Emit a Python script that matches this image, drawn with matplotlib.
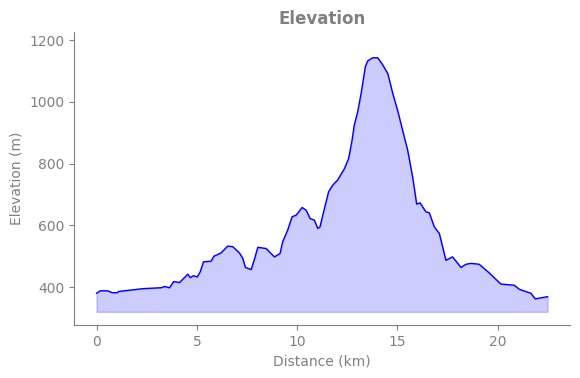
import matplotlib
matplotlib.use("Agg")

import matplotlib.pyplot as plt
import numpy as np


###----------------------profile_data----------------------###
distance_km = [
    0.00, 0.18, 0.56, 0.78, 1.03, 1.11, 2.31, 3.22, 3.39, 3.64,
    3.84, 4.14, 4.55, 4.67, 4.83, 5.02, 5.17, 5.33, 5.71, 5.85,
    6.21, 6.54, 6.79, 7.12, 7.29, 7.42, 7.71, 7.87, 8.04, 8.46,
    8.62, 8.87, 9.15, 9.28, 9.53, 9.75, 9.95, 10.25, 10.45, 10.65,
    10.86, 11.03, 11.14, 11.28, 11.57, 11.77, 12.02, 12.36, 12.57, 12.74,
    12.85, 13.02, 13.19, 13.40, 13.52, 13.77, 14.02, 14.23, 14.52, 14.77,
    15.01, 15.26, 15.51, 15.76, 15.96, 16.13, 16.42, 16.59, 16.84, 17.09,
    17.42, 17.75, 18.17, 18.42, 18.67, 19.08, 19.58, 20.16, 20.83, 21.08,
    21.66, 21.87, 22.49,
]
elevation_m = [
    380, 388, 388, 382, 382, 386, 395, 398, 402, 398,
    418, 415, 442, 431, 437, 433, 450, 482, 484, 500,
    511, 533, 531, 511, 493, 464, 457, 490, 529, 525,
    514, 498, 509, 547, 585, 628, 633, 658, 649, 622,
    617, 590, 595, 633, 709, 730, 747, 784, 817, 876,
    925, 968, 1027, 1114, 1133, 1143, 1143, 1124, 1092, 1027,
    973, 908, 844, 757, 669, 673, 644, 641, 595, 574,
    487, 498, 464, 474, 477, 474, 446, 410, 406, 393,
    380, 362, 369,
]
fill_base = 320

###----------------------plot_graph------------------------###
text_grey = "#808080"
x = np.array(distance_km)
y = np.array(elevation_m)

fig = plt.figure(figsize=(5.8, 3.78), dpi=100)
ax = fig.add_axes([0.1276, 0.140, 0.8554, 0.775])

ax.plot(x, y, color="blue", linewidth=1)
ax.fill_between(x, y, fill_base, color="blue", alpha=0.2)

ax.set_title("Elevation", color=text_grey, fontsize=12, fontweight="bold")
ax.set_xlabel("Distance (km)", color=text_grey, fontsize=10)
ax.set_ylabel("Elevation (m)", color=text_grey, fontsize=10)
ax.set_ylim(277, 1226)
ax.set_yticks([400, 600, 800, 1000, 1200])
ax.set_xticks([0, 5, 10, 15, 20])

for side in ["top", "right"]:
    ax.spines[side].set_visible(False)
for side in ["left", "bottom"]:
    ax.spines[side].set_color(text_grey)
ax.tick_params(colors=text_grey, labelcolor=text_grey, labelsize=10)

plt.savefig("out.png", dpi=100)
